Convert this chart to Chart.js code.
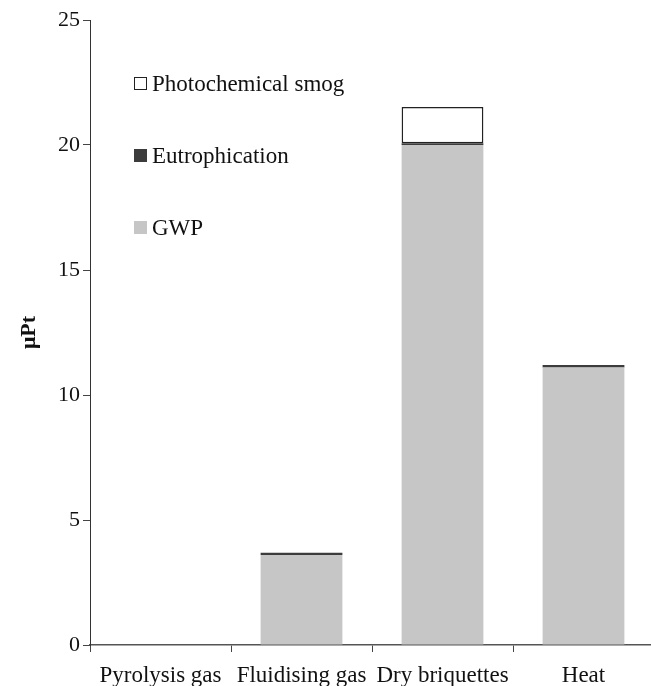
<!DOCTYPE html>
<html><head><meta charset="utf-8">
<script src="https://cdn.jsdelivr.net/npm/chart.js@4/dist/chart.umd.min.js"></script>
<style>html,body{margin:0;padding:0;background:#fff;overflow:hidden;}#wrap{width:651px;height:686px;position:relative;overflow:hidden;}canvas{display:block;}</style>
</head><body><div id="wrap"><canvas id="c" width="654" height="686"></canvas></div>
<script>
const categories = ["Pyrolysis gas", "Fluidising gas", "Dry briquettes", "Heat"];
const gwp = [0, 3.6, 20.0, 11.1];
const eutrophication = [0, 0.09, 0.07, 0.1];
const photochemicalSmog = [0, 0, 1.45, 0];
const yTicks = [0, 5, 10, 15, 20, 25];

const FONT = "'Liberation Serif', 'DejaVu Serif', serif";

const legendPlugin = {
  id: 'customLegend',
  afterDraw(chart) {
    const ctx = chart.ctx;
    const items = chart.data.datasets.slice().reverse();
    const ys = [84, 156, 228];
    ctx.save();
    ctx.font = "23px " + FONT;
    ctx.textBaseline = 'middle';
    items.forEach((ds, i) => {
      const y = ys[i];
      ctx.fillStyle = ds.backgroundColor;
      ctx.fillRect(134, y - 7, 13, 13);
      if (ds.borderWidth) {
        ctx.strokeStyle = '#222';
        ctx.lineWidth = 1;
        ctx.strokeRect(134.5, y - 6.5, 12, 12);
      }
      ctx.fillStyle = '#111';
      ctx.fillText(ds.label, 152, y + 1);
    });
    ctx.restore();
  }
};

new Chart(document.getElementById('c'), {
  type: 'bar',
  data: {
    labels: categories,
    datasets: [
      { label: 'GWP', data: gwp, backgroundColor: '#c6c6c6', borderWidth: 0 },
      { label: 'Eutrophication', data: eutrophication, backgroundColor: '#3c3c3c', borderWidth: 0 },
      { label: 'Photochemical smog', data: photochemicalSmog, backgroundColor: '#ffffff', borderColor: '#222222', borderWidth: 1.5 }
    ]
  },
  options: {
    responsive: false,
    animation: false,
    devicePixelRatio: 1,
    layout: { padding: { top: 20, right: 0, left: 0, bottom: 0 } },
    datasets: { bar: { categoryPercentage: 1, barPercentage: 0.58, borderSkipped: false } },
    plugins: { legend: { display: false }, tooltip: { enabled: false } },
    scales: {
      x: {
        stacked: true,
        grid: { display: true, drawOnChartArea: false, offset: true, tickLength: 7, color: '#444', lineWidth: 1 },
        border: { display: true, color: '#555', width: 1.5 },
        ticks: { color: '#111', font: { family: FONT, size: 23 }, padding: 10, maxRotation: 0, autoSkip: false },
        afterFit(s) { s.height = 41; }
      },
      y: {
        stacked: true,
        min: 0, max: 25,
        afterBuildTicks(s) { s.ticks = yTicks.map(v => ({ value: v })); },
        grid: { display: true, drawOnChartArea: false, tickLength: 7, color: '#444' },
        border: { display: true, color: '#333', width: 1 },
        ticks: { color: '#111', font: { family: FONT, size: 22 }, padding: 3 },
        title: { display: true, text: 'μPt', color: '#111', font: { family: FONT, size: 22, weight: 'bold' }, padding: { top: 16, bottom: 0 } },
        afterFit(s) { s.width = 90; }
      }
    }
  },
  plugins: [legendPlugin]
});
</script></body></html>
